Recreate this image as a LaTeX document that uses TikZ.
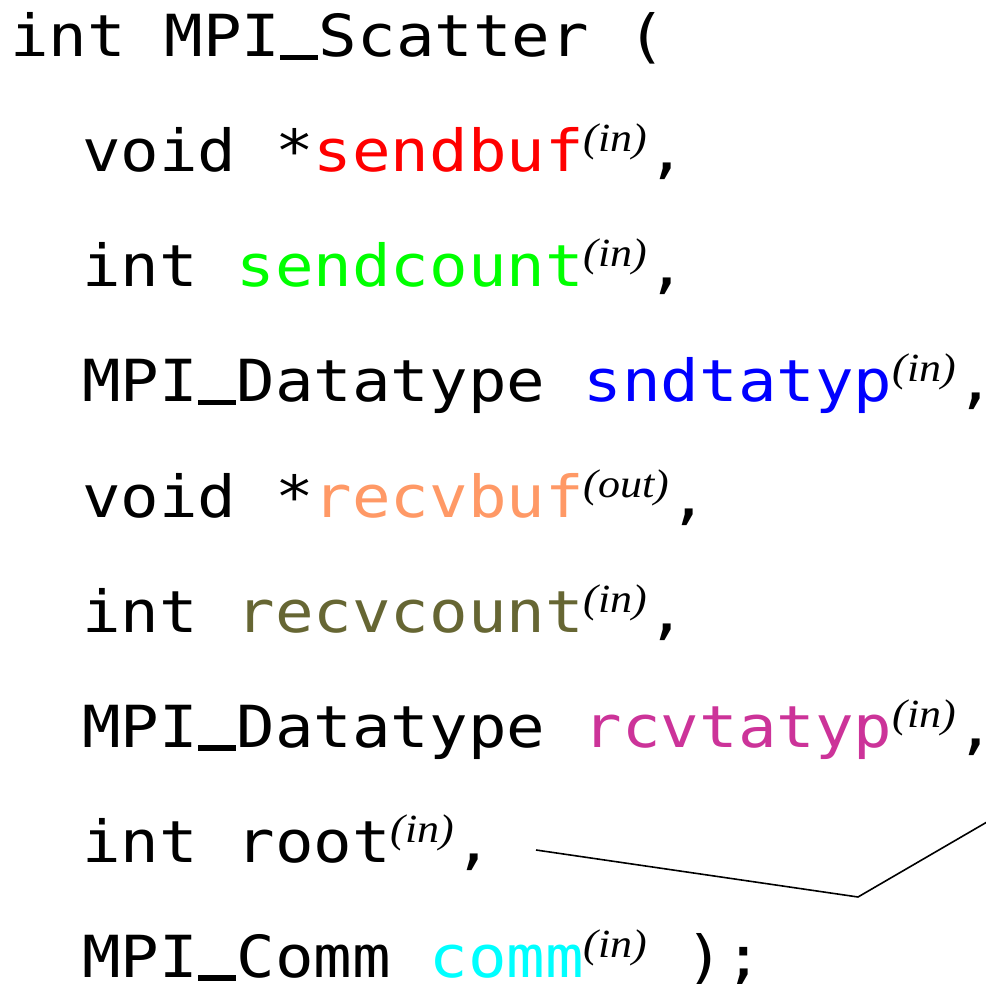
\documentclass[tikz,border=0pt]{standalone}
\usepackage{fontspec}
\newfontfamily\cdfont[FakeStretch=1.105]{DejaVu Sans Mono}
\newfontfamily\supfont[FakeStretch=1.1]{Liberation Serif}
\newcommand\supin[1]{\raisebox{20pt}{\fontsize{40}{40}\selectfont\supfont\itshape(#1)}}
\newcommand\usc{\makebox[38.58pt][l]{\rule[-3.5pt]{38pt}{5.5pt}}}
\definecolor{cred}{RGB}{255,0,0}
\definecolor{cgreen}{RGB}{0,255,0}
\definecolor{cblue}{RGB}{0,0,255}
\definecolor{csalmon}{RGB}{255,153,102}
\definecolor{colive}{RGB}{102,102,51}
\definecolor{cpink}{RGB}{204,51,153}
\definecolor{ccyan}{RGB}{0,255,255}
\begin{document}
\begin{tikzpicture}[x=1pt,y=-1pt,
  codeline/.style={anchor=base west, inner sep=0pt, font=\fontsize{58}{58}\selectfont\cdfont},
  connector/.style={draw=black, line width=1.6pt}]
\useasboundingbox (0,0) rectangle (986,984);
\node[codeline] (l1) at (10,57) {int MPI\usc Scatter (};
\node[codeline] (l2) at (82,172) {void *\textcolor{cred}{sendbuf}\supin{in},};
\node[codeline] (l3) at (82,287) {int \textcolor{cgreen}{sendcount}\supin{in},};
\node[codeline] (l4) at (82,402) {MPI\usc Datatype \textcolor{cblue}{sndtatyp}\supin{in},};
\node[codeline] (l5) at (82,517) {void *\textcolor{csalmon}{recvbuf}\supin{out},};
\node[codeline] (l6) at (82,632) {int \textcolor{colive}{recvcount}\supin{in},};
\node[codeline] (l7) at (82,747) {MPI\usc Datatype \textcolor{cpink}{rcvtatyp}\supin{in},};
\node[codeline] (l8) at (82,862) {int root\supin{in},};
\node[codeline] (l9) at (82,977) {MPI\usc Comm \textcolor{ccyan}{comm}\supin{in} );};
\coordinate (p1) at (536,850);
\coordinate (p2) at (858,897);
\coordinate (p3) at (987,822);
\draw[connector] (p1) -- (p2) -- (p3);
\end{tikzpicture}
\end{document}
